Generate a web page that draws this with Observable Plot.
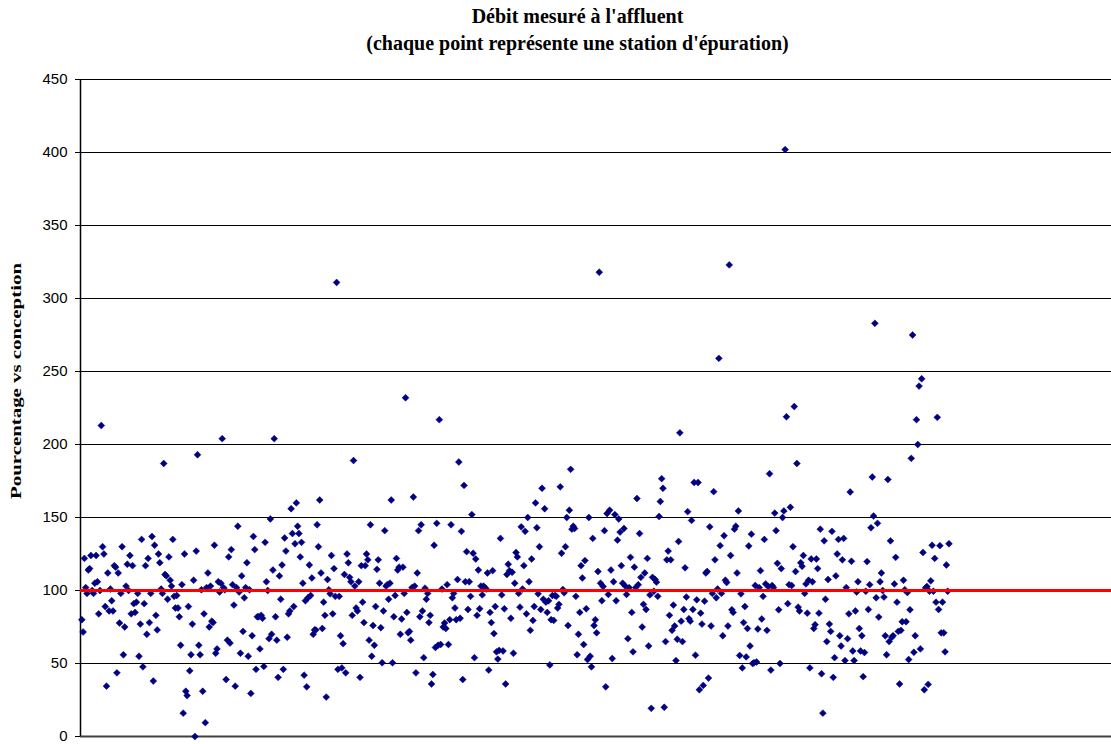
<!DOCTYPE html>
<html>
<head>
<meta charset="utf-8">
<script src="https://cdn.jsdelivr.net/npm/d3@7"></script>
<script src="https://cdn.jsdelivr.net/npm/@observablehq/plot@0.6"></script>
<style>
  html, body { margin: 0; padding: 0; background: #fff; }
  #wrap { position: relative; width: 1111px; height: 744px; overflow: hidden; }
  #title { position: absolute; left: 44px; top: 3px; width: 1067px; text-align: center;
           font: bold 20px "Liberation Serif", "Times New Roman", serif; line-height: 27px; color: #000; }
  #chart { position: absolute; left: 0; top: 0; }
</style>
</head>
<body>
<div id="wrap">
  <div id="chart"></div>
  <div id="title">Débit mesuré à l'affluent<br>(chaque point représente une station d'épuration)</div>
</div>
<script>
// Percentage of design flow measured at the inflow, one value per treatment plant (in plotting order)
const segment1 = [80,71.6,122,102,98,114,115,124,100,98,105,124,106,84,100,213,130,125,89,34.5,112,86,101,93,86,117,116,43.6,112,77.7,98,130,56,75,103,118,100,124,84,117,91,85,92,98,55,77,135,47.7,91,117,70,122,78,98,137,38,131,83,73,125,119,101,98,187,111,110,94,123,107,103,135,96,88];
const segment2 = [96.6,88,82,62.5,104,16,125,31,28,89,45,56,77,107,0,127,193,62.5,56,100.5,31,84,9.5,102,112,75,103,79,78,131,57,60,106,99,105,204,102,100.5,39,66,123,64,128,104,90,34.5,102,144,99,57,110,72,95,102,119,55,100.5,29.5,69,137,128,46,82,82,60,83,81,48,133,106,100,67,149,70,114,204];
const segment3 = [82,66,40.5,110,94,117.5,46,136,127,68,84,86,156,139,89,132,160,144,139,123,133,105,42,93,34,95,117.5,96.6,108.6,70,73,73,145,130,162,112,74,92,83,27,107.5,100.5,97.7,124,84,115,96,311,46,96,69,47,63.6,111,43.6,125,119,109,106,83,189,103,88,86,106,40.5,117,92,78,117,125,121,66,145,55,76,62.5,89,114.5];
const segment4 = [121,105,74.5,50.5,86,141,103,104,94,105,162,50.5,82,96.6,122,114,116,70,80.5,116,98,232,85,71,72,66,102,164,103,43.6,112,141,82,145,86,54,101.6,94,98,78,83,36,42.5,131,61,146,62.5,217,63,101,75,77.7,74,104,63,80,145,95,98,88,80,107.5,188,81,140.5,39,172,106,126.6,87,106,96,152,125.5,54,121.6,83];
const segment5 = [114,87.5,103,97,103,102,101,112,45.5,85,78,113.6,70.5,89,58,53,59,135.7,97,58.6,87.5,36,111,118,113.6,81,112.5,57,105,126,123,98,88.6,143.6,101,117,140.5,84,150,106,72.7,121.6,79.5,89,160,143,97.7,130,87,170,94,156,92,85,93,49,80,96.6,79.5,96.6,96,88,90.5,171,125.5,100.7,98.4,130,150,76,155,183,142,144,142.5,96,56,70,85,117];
const segment6 = [108.6,63,120.5,87.5,52.7,150,55,47.7,135.7,76,80,71,113,318,105,93,102.7,141,34,152.7,97.3,155,114,53.4,106,152,93,134.5,149,140,117,105,142.5,103,97.3,67,102,122.7,85,58,116,102,163,104,139,109,75,90.5,112,87,122,62,97,19.3,109,99.5,107.5,105.7,96,150.7,161,176.6,170,20,65,121,127,83,121,72.7,90,75.7,52,66.6,133.6,208];
const segment7 = [79,65,87,115.5,95.5,154,80.7,79,148,87,174,55.7,93.6,174,32,84.5,77,35,92.7,112,113,40,143.6,75.7,98,167.7,121,95,101,259,130.7,98,69,137.5,107,105.5,75.7,323,124,86.8,85,142,144,112,154.5,55.5,97.7,47,78,89,54.5,74,130.5,62,138.6,50,50.5,103.4,51,73.6,102,113.6,80.5,96,135,104.5,72.7,102.7,180,45.5,103.4,102,153,141,118.6,86.8];
const segment8 = [50,115,150,154.5,402,219,91,104,157,103.4,130,226,113,187,88.6,86,119,116.6,124,98,104.5,84.5,107,47,121.6,106,74,76.6,121.6,115,84.5,142,43,16,134,94,65,107.5,77,72,140.5,40.5,54,110,125,135,69,62,121,135.7,52,102,67,84,167.5,120,58.6,52,86,99,106,74,58.6,69,41,57.5,99.5,119.8,87,104,143,177.7,151,283,95,146];
const segment9 = [81.8,106,112,100,95.5,69,56,176,65,134,68,69,104.5,122.7,92,72,36,72.7,78.6,107,100.5,78.6,98.6,52.7,86.8,190.5,275,57.7,69,217,200,240,60,245,126,32,101.8,102.7,35.7,99.5,106.6,131,99.5,122,92,218.6,87,130.7,71,92,71,58,117.5,99.5,132];

const yTicks = [0, 50, 100, 150, 200, 250, 300, 350, 400, 450];
const designLevel = 100;
const xMax = 793;
const yLabel = "Pourcentage vs conception";

const pct = [].concat(segment1, segment2, segment3, segment4, segment5, segment6, segment7, segment8, segment9);
const stations = pct.map((v, i) => ({station: i + 1, pct: v}));

const chart = Plot.plot({
  width: 1111,
  height: 744,
  marginTop: 79,
  marginBottom: 8,
  marginLeft: 80,
  marginRight: 0,
  style: {fontFamily: "'Liberation Sans', Arial, sans-serif", fontSize: "15px", background: "white", color: "black"},
  x: {domain: [0, xMax], axis: null},
  y: {domain: [0, 450]},
  marks: [
    Plot.gridY(yTicks.filter(d => d > 0), {stroke: "black", strokeOpacity: 1, strokeWidth: 1}),
    Plot.ruleY([0], {stroke: "#404040", strokeWidth: 2}),
    Plot.ruleX([0], {stroke: "black", strokeWidth: 1.5}),
    Plot.axisY({ticks: yTicks, tickSize: 5, tickPadding: 8, label: null, fontSize: 15, tickFormat: d => String(d)}),
    Plot.dot(stations, {x: "station", y: "pct", symbol: "diamond2", r: 3.1, fill: "#000080", stroke: "#000080", strokeWidth: 0.5}),
    Plot.ruleY([designLevel], {stroke: "#FF0000", strokeWidth: 3})
  ]
});
document.getElementById("chart").appendChild(chart);

// y-axis title
d3.select(chart).append("text")
  .attr("transform", "translate(21,381) rotate(-90)")
  .attr("text-anchor", "middle")
  .attr("textLength", 236)
  .attr("lengthAdjust", "spacingAndGlyphs")
  .style("font", "bold 15px 'Liberation Serif', 'Times New Roman', serif")
  .attr("fill", "black")
  .text(yLabel);
</script>
</body>
</html>
